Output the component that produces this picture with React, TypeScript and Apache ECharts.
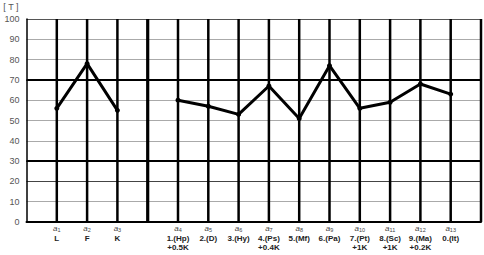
import React, { useEffect, useRef } from "react";
import * as echarts from "echarts";

// slots along the x axis: border, a1..a3, separator, a4..a13, border
const categories = ["", "a1", "a2", "a3", "", "a4", "a5", "a6", "a7", "a8", "a9", "a10", "a11", "a12", "a13", ""];
const scaleNames: Record<string, string> = {
  a1: "L", a2: "F", a3: "K",
  a4: "1.(Hp)", a5: "2.(D)", a6: "3.(Hy)", a7: "4.(Ps)", a8: "5.(Mf)",
  a9: "6.(Pa)", a10: "7.(Pt)", a11: "8.(Sc)", a12: "9.(Ma)", a13: "0.(It)",
};
const kCorrections: Record<string, string> = {
  a4: "+0.5K", a7: "+0.4K", a10: "+1K", a11: "+1K", a12: "+0.2K",
};
const validityScales = ["a1", "a2", "a3"];
const validityValues = [56, 78, 55];
const clinicalScales = ["a4", "a5", "a6", "a7", "a8", "a9", "a10", "a11", "a12", "a13"];
const clinicalValues = [60, 57, 53, 67, 51, 77, 56, 59, 68, 63];
const yTicks = [0, 10, 20, 30, 40, 50, 60, 70, 80, 90, 100];
const hLineColors = ["#000", "#aaa", "#444", "#000", "#aaa", "#aaa", "#aaa", "#000", "#aaa", "#aaa", "#555"];
const thickY = [30, 70];
const separatorSlot = 4;

function buildSeriesData(keys: string[], vals: number[]) {
  return keys.map((k, i) => [categories.indexOf(k), vals[i]]);
}

export default function App() {
  const ref = useRef<HTMLDivElement>(null);
  useEffect(() => {
    if (!ref.current) return;
    const chart = echarts.init(ref.current, null, { renderer: "svg" });
    const font = "'Liberation Sans', Arial, sans-serif";
    const lineStyle = { color: "#000", width: 3 };
    const verticalSlots = categories.map((_, i) => [i, yTicks[0]]).filter((d) => d[0] > 0);
    chart.setOption({
      animation: false,
      backgroundColor: "#fff",
      grid: { left: 23, right: 1, top: 19, bottom: 33 },
      xAxis: {
        type: "value",
        min: 0,
        max: categories.length - 1,
        interval: 1,
        axisLine: { show: true, lineStyle: { color: "#000", width: 2 } },
        axisTick: { show: false },
        splitLine: { show: false },
        axisLabel: {
          margin: 2,
          showMinLabel: true,
          showMaxLabel: true,
          fontFamily: font,
          formatter: (val: number) => {
            const v = categories[Math.round(val)];
            if (!v) return "";
            const n = v.slice(1);
            const k = kCorrections[v] || "";
            return `{a|a}{s|${n}}\n{b|${scaleNames[v]}}` + (k ? `\n{b|${k}}` : "");
          },
          rich: {
            a: { fontFamily: font, fontStyle: "italic", fontSize: 8, color: "#444", lineHeight: 9.5 },
            s: { fontFamily: font, fontSize: 5.5, color: "#444", lineHeight: 9.5, padding: [3, 0, 0, 0] },
            b: { fontFamily: font, fontWeight: "bold", fontSize: 8, color: "#222", lineHeight: 9 },
          },
        },
      },
      yAxis: {
        type: "value",
        min: yTicks[0],
        max: yTicks[yTicks.length - 1],
        interval: 10,
        name: "[ T ]",
        nameLocation: "end",
        nameGap: 8,
        nameTextStyle: { fontFamily: font, fontSize: 9, color: "#555", align: "right", padding: [0, 8, 0, 0] },
        axisLine: { show: true, lineStyle: { color: "#000", width: 1.5 } },
        axisTick: { show: false },
        axisLabel: { margin: 7, fontFamily: font, fontSize: 9, color: "#555" },
        splitLine: { show: true, lineStyle: { color: hLineColors, width: 1 } },
      },
      series: [
        {
          type: "custom",
          silent: true,
          z: 1,
          clip: false,
          encode: { x: 0, y: 1 },
          data: verticalSlots,
          renderItem: (params: any, api: any) => {
            const i = api.value(0);
            const bottom = api.coord([i, yTicks[0]]);
            const top = api.coord([i, yTicks[yTicks.length - 1]]);
            const w = i === separatorSlot ? 3.2 : 2.5;
            return {
              type: "rect",
              shape: { x: bottom[0] - w / 2, y: top[1], width: w, height: bottom[1] - top[1] },
              style: { fill: "#000" },
            };
          },
        },
        {
          type: "line",
          data: buildSeriesData(validityScales, validityValues),
          lineStyle,
          itemStyle: { color: "#000" },
          symbol: "circle",
          symbolSize: 5,
          z: 5,
          markLine: {
            silent: true,
            symbol: "none",
            label: { show: false },
            z: 1,
            data: thickY.map((y) => ({ yAxis: y, lineStyle: { color: "#000", width: 2, type: "solid" } })),
          },
        },
        {
          type: "line",
          data: buildSeriesData(clinicalScales, clinicalValues),
          lineStyle,
          itemStyle: { color: "#000" },
          symbol: "circle",
          symbolSize: 5,
          z: 5,
        },
      ],
    });
    return () => chart.dispose();
  }, []);
  return <div ref={ref} style={{ position: "absolute", left: 0, top: 0, width: 484, height: 255 }} />;
}
